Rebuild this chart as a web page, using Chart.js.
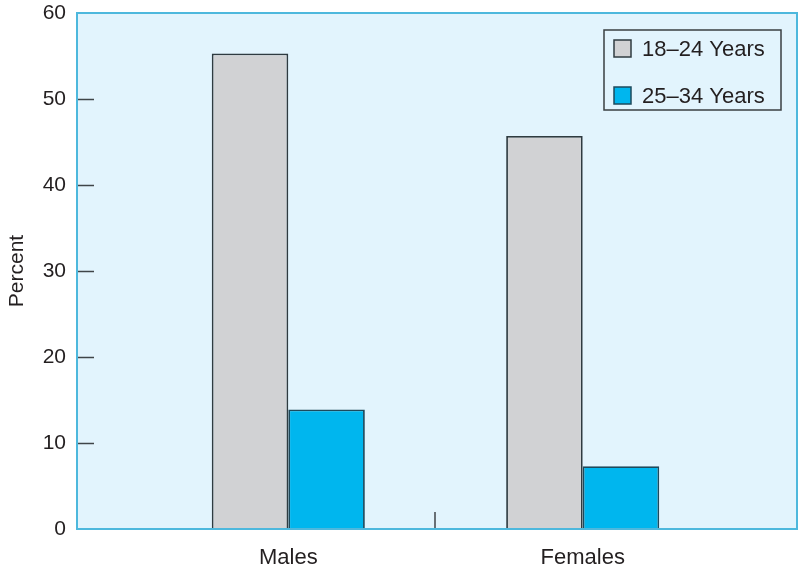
<!DOCTYPE html>
<html>
<head>
<meta charset="utf-8">
<script src="https://cdn.jsdelivr.net/npm/chart.js@4"></script>
<style>
  html, body { margin: 0; padding: 0; background: #ffffff; }
  #wrap { width: 800px; height: 570px; }
</style>
</head>
<body>
<div id="wrap"><canvas id="c" width="800" height="570"></canvas></div>
<script>
const categories = ['Males', 'Females'];
const seriesNames = ['18–24 Years', '25–34 Years'];
const values1824 = [55.3, 45.7];
const values2534 = [13.9, 7.3];
const yTickValues = [0, 10, 20, 30, 40, 50, 60];
const tickMarkValues = [10, 20, 30, 40, 50];
const separatorValues = [0.5];

const FONT = '"Liberation Sans", Arial, Helvetica, sans-serif';
const TEXT = '#231f20';

const frameAndTicks = {
  id: 'frameAndTicks',
  beforeDatasetsDraw(chart) {
    const {ctx, chartArea: a} = chart;
    ctx.save();
    ctx.fillStyle = '#e2f4fd';
    ctx.fillRect(a.left, a.top, a.right - a.left, a.bottom - a.top);
    const y = chart.scales.y, x = chart.scales.x;
    ctx.strokeStyle = '#3f4548';
    ctx.lineWidth = 1.5;
    tickMarkValues.forEach(v => {
      const py = Math.round(y.getPixelForValue(v)) + 0.5;
      ctx.beginPath(); ctx.moveTo(a.left, py); ctx.lineTo(a.left + 17, py); ctx.stroke();
    });
    separatorValues.forEach(v => {
      const px = Math.round(x.getPixelForValue(v));
      ctx.beginPath(); ctx.moveTo(px, a.bottom); ctx.lineTo(px, a.bottom - 17); ctx.stroke();
    });
    ctx.restore();
  },
  afterDraw(chart) {
    const {ctx, chartArea: a} = chart;
    ctx.save();
    ctx.strokeStyle = '#4db8dd';
    ctx.lineWidth = 2;
    ctx.strokeRect(a.left, a.top, a.right - a.left, a.bottom - a.top);
    // legend box
    const lx = a.right - 193, ly = a.top + 17, lw = 177, lh = 80;
    ctx.strokeStyle = '#3a3f42';
    ctx.lineWidth = 1.5;
    ctx.strokeRect(lx, ly, lw, lh);
    ctx.font = '22px ' + FONT;
    ctx.textBaseline = 'middle';
    ctx.textAlign = 'left';
    chart.data.datasets.forEach((ds, i) => {
      const cy = ly + 18 + i * 47;
      ctx.fillStyle = ds.backgroundColor;
      ctx.fillRect(lx + 10, cy - 8, 17, 17);
      ctx.strokeStyle = ds.borderColor;
      ctx.lineWidth = 1.5;
      ctx.strokeRect(lx + 10, cy - 8, 17, 17);
      ctx.fillStyle = TEXT;
      ctx.fillText(ds.label, lx + 38, cy + 2);
    });
    ctx.restore();
  }
};

new Chart(document.getElementById('c'), {
  type: 'bar',
  data: {
    datasets: [
      {
        label: seriesNames[0],
        data: categories.map((c, i) => ({x: i, y: values1824[i]})),
        backgroundColor: '#d1d2d4',
        borderColor: '#2f3b40',
        borderWidth: 1.8,
        borderSkipped: 'bottom'
      },
      {
        label: seriesNames[1],
        data: categories.map((c, i) => ({x: i, y: values2534[i]})),
        backgroundColor: '#00b6ee',
        borderColor: '#1d4a5c',
        borderWidth: 1.8,
        borderSkipped: 'bottom'
      }
    ]
  },
  options: {
    responsive: false,
    animation: false,
    devicePixelRatio: 1,
    layout: { padding: { top: 13, right: 3, bottom: 0, left: 0 } },
    datasets: { bar: { categoryPercentage: 0.52, barPercentage: 1.0 } },
    plugins: { legend: { display: false }, tooltip: { enabled: false } },
    scales: {
      x: {
        type: 'linear',
        offset: false,
        min: -0.7177,
        max: 1.7279,
        grid: { display: false, drawTicks: false },
        border: { display: false },
        afterBuildTicks(scale) { scale.ticks = categories.map((c, i) => ({value: i})); },
        afterFit(scale) { scale.height = 41; scale.paddingLeft = 0; scale.paddingRight = 0; },
        ticks: {
          padding: 16,
          color: TEXT,
          font: { family: FONT, size: 22 },
          callback: (v) => categories[v] ?? ''
        }
      },
      y: {
        min: 0,
        max: 60,
        grid: { display: false, drawTicks: false },
        border: { display: false },
        afterBuildTicks(scale) { scale.ticks = yTickValues.map(v => ({value: v})); },
        afterFit(scale) { scale.width = 77; scale.paddingTop = 0; scale.paddingBottom = 0; },
        ticks: {
          padding: 11,
          color: TEXT,
          font: { family: FONT, size: 21 }
        },
        title: {
          display: true,
          text: 'Percent',
          color: TEXT,
          font: { family: FONT, size: 21 },
          padding: { top: 5, bottom: 0 }
        }
      }
    }
  },
  plugins: [frameAndTicks]
});
</script>
</body>
</html>
